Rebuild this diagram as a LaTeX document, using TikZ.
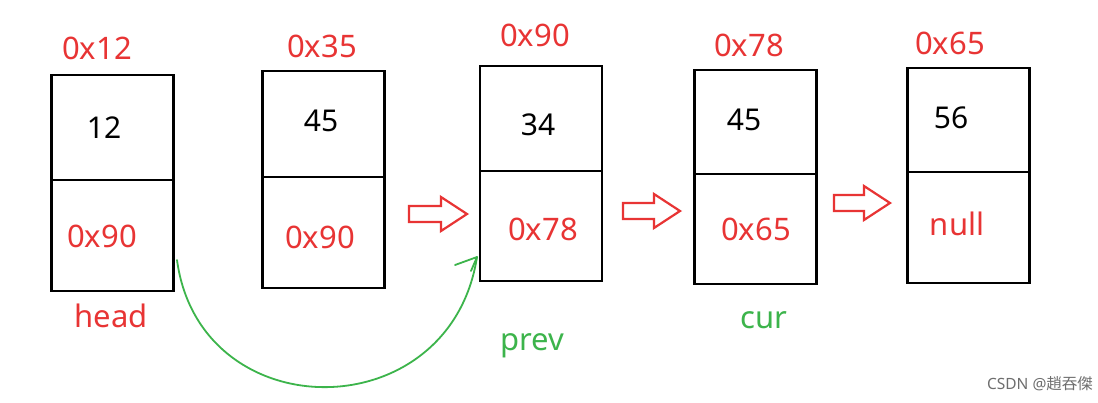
\documentclass[tikz,border=0pt]{standalone}
\usepackage{fontspec}
\setmainfont{Noto Sans}
\newfontfamily\cjkfont{Noto Sans CJK SC}
\usetikzlibrary{calc}
\definecolor{myred}{RGB}{232,52,52}
\definecolor{mygreen}{RGB}{60,180,75}
\definecolor{mygray}{RGB}{110,110,110}
\begin{document}
\begin{tikzpicture}[x=1pt,y=-1pt,
  cell/.style={draw=black,line width=2.6pt,minimum width=122pt,inner sep=0pt},
  val/.style={font=\fontsize{30}{32}\selectfont,text=black,inner sep=0pt},
  addr/.style={font=\fontsize{31}{33}\selectfont,text=myred,inner sep=0pt},
  gtxt/.style={font=\fontsize{31}{33}\selectfont,text=mygreen,inner sep=0pt},
  gline/.style={draw=mygreen,line width=1.8pt,line cap=round,line join=round},
  hollow/.style={draw=myred,line width=2.2pt,fill=white,line join=miter}]
\path[fill=white] (0,0) rectangle (1098,402);
\useasboundingbox (0,0) rectangle (1098,402);
% boxes
\node[cell,minimum height=105pt] (b1t) at (112.5,127.5) {};
\node[cell,minimum height=111pt] (b1b) at (112.5,235.5) {};
\node[cell,minimum height=106pt] (b2t) at (323.5,124) {};
\node[cell,minimum height=111pt] (b2b) at (323.5,232.5) {};
\node[cell,minimum height=105pt] (b3t) at (541,118.5) {};
\node[cell,minimum height=110pt] (b3b) at (541,226) {};
\node[cell,minimum height=104pt] (b4t) at (755.5,122) {};
\node[cell,minimum height=110pt] (b4b) at (755.5,229) {};
\node[cell,minimum height=104pt] (b5t) at (968.5,120) {};
\node[cell,minimum height=111pt] (b5b) at (968.5,227.5) {};
% address labels
\node[addr] (a1) at (97,48) {0x12};
\node[addr] (a2) at (322,46) {0x35};
\node[addr] (a3) at (535,35) {0x90};
\node[addr] (a4) at (749,45) {0x78};
\node[addr] (a5) at (950,43) {0x65};
% values
\node[val] (v1) at (104,128) {12};
\node[val] (v2) at (321,121) {45};
\node[val] (v3) at (538,125) {34};
\node[val] (v4) at (744,120) {45};
\node[val] (v5) at (951,118) {56};
% next fields
\node[addr] (n1) at (102,236) {0x90};
\node[addr] (n2) at (320,237) {0x90};
\node[addr] (n3) at (543,229) {0x78};
\node[addr] (n4) at (756,229) {0x65};
\node[addr] (n5) at (957,224) {null};
% pointer labels
\node[addr] (head) at (111,316) {head};
\node[gtxt] (prev) at (532,346) {prev};
\node[gtxt] (cur) at (764,320) {cur};
% hollow arrows
\draw[hollow] (409,206)--(441,206)--(441,197)--(467,214)--(441,231)--(441,222)--(409,222)--cycle;
\draw[hollow] (623,203)--(654,203)--(654,194)--(680,211)--(654,228)--(654,219)--(623,219)--cycle;
\draw[hollow] (834,195)--(864,195)--(864,186)--(890,203)--(864,220)--(864,211)--(834,211)--cycle;
% green curve
\coordinate (cs) at (177,260);
\coordinate (ce) at (477,257);
\draw[gline] (cs) .. controls (200,430) and (450,430) .. (ce);
\draw[gline] ($(ce)+(-22,8)$) -- (ce) -- ($(ce)+(-6,14)$);
% watermark
\node[font=\fontsize{15.5}{17}\selectfont,text=mygray,inner sep=0pt] (wm) at (1040,384) {CSDN @{\cjkfont 趙吞傑}};
\end{tikzpicture}
\end{document}
